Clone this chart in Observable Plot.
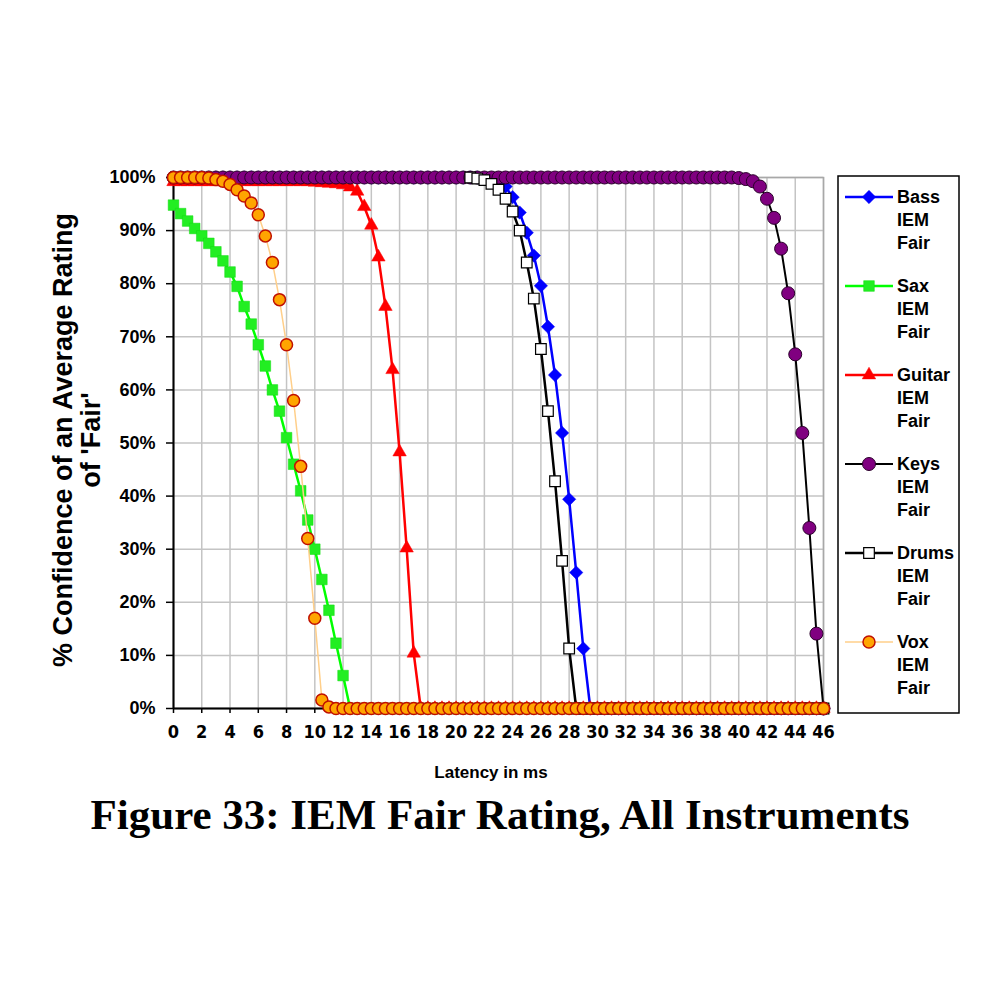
<!DOCTYPE html>
<html>
<head>
<meta charset="utf-8">
<script src="https://cdn.jsdelivr.net/npm/d3@7"></script>
<script src="https://cdn.jsdelivr.net/npm/@observablehq/plot@0.6"></script>
<style>
  html, body { margin: 0; padding: 0; background: white; }
</style>
</head>
<body>
<div id="chart"></div>
<script>
// ---- data ----
const latency = [
  0,0.5,1,1.5,2,2.5,3,3.5,4,4.5,
  5,5.5,6,6.5,7,7.5,8,8.5,9,9.5,
  10,10.5,11,11.5,12,12.5,13,13.5,14,14.5,
  15,15.5,16,16.5,17,17.5,18,18.5,19,19.5,
  20,20.5,21,21.5,22,22.5,23,23.5,24,24.5,
  25,25.5,26,26.5,27,27.5,28,28.5,29,29.5,
  30,30.5,31,31.5,32,32.5,33,33.5,34,34.5,
  35,35.5,36,36.5,37,37.5,38,38.5,39,39.5,
  40,40.5,41,41.5,42,42.5,43,43.5,44,44.5,
  45,45.5,46
];

const bass = [
  100,100,100,100,100,100,100,100,100,100,
  100,100,100,100,100,100,100,100,100,100,
  100,100,100,100,100,100,100,100,100,100,
  100,100,100,100,100,100,100,100,100,100,
  100,100,100,100,99.9,99.7,99.3,98.3,96.3,93.4,
  89.6,85.3,79.6,71.9,62.8,51.9,39.4,25.6,11.3,0,
  0,0,0,0,0,0,0,0,0,0,
  0,0,0,0,0,0,0,0,0,0,
  0,0,0,0,0,0,0,0,0,0,
  0,0,0
];

const sax = [
  94.8,93.2,91.8,90.4,89,87.6,86,84.3,82.2,79.5,
  75.7,72.4,68.5,64.5,60,56,51,46,41,35.5,
  30,24.3,18.5,12.3,6.2,0,0,0,0,0,
  0,0,0,0,0,0,0,0,0,0,
  0,0,0,0,0,0,0,0,0,0,
  0,0,0,0,0,0,0,0,0,0,
  0,0,0,0,0,0,0,0,0,0,
  0,0,0,0,0,0,0,0,0,0,
  0,0,0,0,0,0,0,0,0,0,
  0,0,0
];

const guitar = [
  99.2,99.2,99.2,99.2,99.2,99.2,99.2,99.2,99.2,99.2,
  99.2,99.2,99.2,99.2,99.2,99.2,99.2,99.2,99.2,99.2,
  99.1,99,98.9,98.8,98.6,98.2,97.4,94.5,91,85,
  75.7,63.8,48.3,30.2,10.4,0,0,0,0,0,
  0,0,0,0,0,0,0,0,0,0,
  0,0,0,0,0,0,0,0,0,0,
  0,0,0,0,0,0,0,0,0,0,
  0,0,0,0,0,0,0,0,0,0,
  0,0,0,0,0,0,0,0,0,0,
  0,0,0
];

const keys = [
  100,100,100,100,100,100,100,100,100,100,
  100,100,100,100,100,100,100,100,100,100,
  100,100,100,100,100,100,100,100,100,100,
  100,100,100,100,100,100,100,100,100,100,
  100,100,100,100,100,100,100,100,100,100,
  100,100,100,100,100,100,100,100,100,100,
  100,100,100,100,100,100,100,100,100,100,
  100,100,100,100,100,100,100,100,100,100,
  99.9,99.7,99.3,98.3,96,92.4,86.6,78.2,66.7,51.9,
  34,14.1,0
];

// drums markers only show from about 21 ms onward in the figure
const drums = [
  null,null,null,null,null,null,null,null,null,null,
  null,null,null,null,null,null,null,null,null,null,
  null,null,null,null,null,null,null,null,null,null,
  null,null,null,null,null,null,null,null,null,null,
  null,null,100,99.8,99.5,98.8,97.7,96,93.6,90,
  84,77.2,67.7,56,42.8,27.8,11.3,0,0,0,
  0,0,0,0,0,0,0,0,0,0,
  0,0,0,0,0,0,0,0,0,0,
  0,0,0,0,0,0,0,0,0,0,
  0,0,0
];

const vox = [
  100,100,100,100,100,99.9,99.6,99.3,98.7,97.7,
  96.5,95.2,93,89,84,77,68.5,58,45.6,32,
  17,1.6,0.3,0,0,0,0,0,0,0,
  0,0,0,0,0,0,0,0,0,0,
  0,0,0,0,0,0,0,0,0,0,
  0,0,0,0,0,0,0,0,0,0,
  0,0,0,0,0,0,0,0,0,0,
  0,0,0,0,0,0,0,0,0,0,
  0,0,0,0,0,0,0,0,0,0,
  0,0,0
];

const xTicks = [0,2,4,6,8,10,12,14,16,18,20,22,24,26,28,30,32,34,36,38,40,42,44,46];
const yTicks = [0,10,20,30,40,50,60,70,80,90,100];
const seriesNames = ["Bass", "Sax", "Guitar", "Keys", "Drums", "Vox"];
const legendSuffix = ["IEM", "Fair"];

// ---- styles ----
const styles = {
  Bass:   {line: "#0000ff", lw: 2.5, symbol: "diamond2", fill: "#0000ff", stroke: "#0000ff", sw: 0.5, r: 6},
  Sax:    {line: "#00ff00", lw: 2.5, symbol: "square",   fill: "#22ee22", stroke: "#11dd11", sw: 0.5, r: 6},
  Guitar: {line: "#ff0000", lw: 2.5, symbol: "triangle", fill: "#ff0000", stroke: "#ff0000", sw: 0.5, r: 5},
  Keys:   {line: "#000000", lw: 2,   symbol: "circle",   fill: "#800080", stroke: "#2a002a", sw: 1, r: 6.5},
  Drums:  {line: "#000000", lw: 2.5, symbol: "square",   fill: "#ffffff", stroke: "#000000", sw: 1.2, r: 6},
  Vox:    {line: "#ffcf8a", lw: 1.5, symbol: "circle",   fill: "#ffa500", stroke: "#c01000", sw: 1.5, r: 6}
};

const seriesValues = {Bass: bass, Sax: sax, Guitar: guitar, Keys: keys, Drums: drums, Vox: vox};
const tables = {};
for (const name of seriesNames) {
  tables[name] = latency.map((x, i) => ({x, y: seriesValues[name][i]})).filter(d => d.y != null);
}

const seriesMarks = [];
for (const name of seriesNames) {
  const s = styles[name];
  seriesMarks.push(Plot.line(tables[name], {x: "x", y: "y", stroke: s.line, strokeWidth: s.lw}));
  seriesMarks.push(Plot.dot(tables[name], {x: "x", y: "y", symbol: s.symbol, r: s.r, fill: s.fill, stroke: s.stroke, strokeWidth: s.sw}));
}

const svg = Plot.plot({
  width: 1000,
  height: 1000,
  marginLeft: 173,
  marginRight: 177,
  marginTop: 177,
  marginBottom: 292,
  x: {domain: [0, 46]},
  y: {domain: [0, 100]},
  style: {background: "white", color: "black", fontFamily: "'Liberation Sans', Arial, sans-serif", overflow: "visible"},
  marks: [
    Plot.gridX(xTicks, {stroke: "#c4c4c4", strokeOpacity: 1, strokeWidth: 1.5}),
    Plot.gridY(yTicks, {stroke: "#c4c4c4", strokeOpacity: 1, strokeWidth: 1.5}),
    Plot.frame({stroke: "#a8a8a8", strokeWidth: 1.5}),
    Plot.ruleX([0], {stroke: "black", strokeWidth: 2}),
    Plot.ruleY([0], {stroke: "black", strokeWidth: 2}),
    Plot.axisY(yTicks, {tickFormat: d => d + "%", fontSize: 18, fontWeight: "bold", tickSize: 7, tickPadding: 11, strokeWidth: 1.5, label: null}),
    Plot.axisX(xTicks, {fontSize: 18, fontWeight: "bold", fontFamily: "'Liberation Sans Narrow', 'DejaVu Sans Condensed', 'Arial Narrow', sans-serif", tickSize: 5, tickPadding: 12, strokeWidth: 1.5, label: null}),
    ...seriesMarks
  ]
});

document.getElementById("chart").appendChild(svg);

const root = d3.select(svg);

// Y axis title (two lines, rotated)
const yTitle = root.append("g").attr("font-weight", "bold").attr("font-size", 27)
  .attr("font-family", "'Liberation Sans', Arial, sans-serif").attr("fill", "black").attr("text-anchor", "middle");
yTitle.append("text").attr("transform", "translate(72,440) rotate(-90)").text("% Confidence of an Average Rating");
yTitle.append("text").attr("transform", "translate(100,440) rotate(-90)").text("of 'Fair'");

// X axis title
root.append("text").attr("x", 491).attr("y", 778).attr("text-anchor", "middle")
  .attr("font-weight", "bold").attr("font-size", 17).attr("font-family", "'Liberation Sans', Arial, sans-serif")
  .attr("fill", "black").text("Latency in ms");

// Caption
root.append("text").attr("x", 500).attr("y", 829).attr("text-anchor", "middle")
  .attr("font-weight", "bold").attr("font-size", 43).attr("font-family", "'Liberation Serif', 'Times New Roman', serif")
  .attr("fill", "black").text("Figure 33: IEM Fair Rating, All Instruments");

// Legend
const lg = root.append("g").attr("text-anchor", "start");
lg.append("rect").attr("x", 838).attr("y", 176).attr("width", 121).attr("height", 537)
  .attr("fill", "white").attr("stroke", "black").attr("stroke-width", 1.5);
const symMap = {diamond2: d3.symbolDiamond2, square: d3.symbolSquare, triangle: d3.symbolTriangle, circle: d3.symbolCircle};
seriesNames.forEach((name, i) => {
  const s = styles[name];
  const y0 = 197 + i * 89;
  lg.append("line").attr("x1", 845).attr("x2", 893).attr("y1", y0).attr("y2", y0)
    .attr("stroke", s.line).attr("stroke-width", s.lw);
  lg.append("path").attr("transform", `translate(869,${y0})`)
    .attr("d", d3.symbol(symMap[s.symbol], s.r * s.r * Math.PI)())
    .attr("fill", s.fill).attr("stroke", s.stroke).attr("stroke-width", s.sw);
  const t = lg.append("text").attr("font-weight", "bold").attr("font-size", 18).attr("text-anchor", "start")
    .attr("font-family", "'Liberation Sans', Arial, sans-serif").attr("fill", "black");
  [name, ...legendSuffix].forEach((line, j) => {
    t.append("tspan").attr("x", 897).attr("y", y0 + j * 23).attr("dy", "0.35em").text(line);
  });
});
</script>
</body>
</html>
